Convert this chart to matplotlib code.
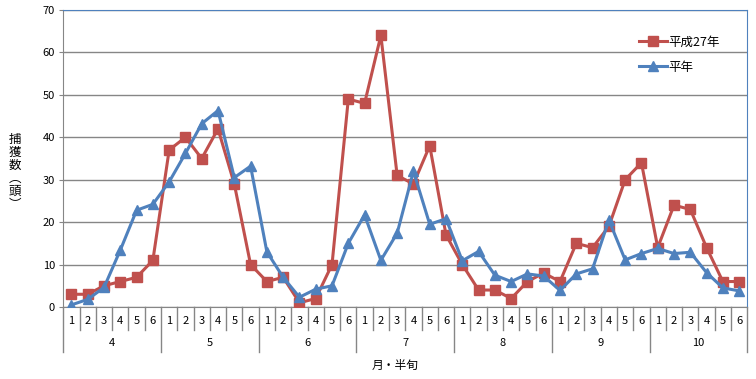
import numpy as np
import matplotlib
matplotlib.use("Agg")
from matplotlib import pyplot as plt

plt.rcParams['font.family'] = ['Noto Sans CJK JP', 'DejaVu Sans']

months = ['4', '5', '6', '7', '8', '9', '10']
halves = ['1', '2', '3', '4', '5', '6']

# 平成27年
h27 = [3, 3, 5, 6, 7, 11,
       37, 40, 35, 42, 29, 10,
       6, 7, 1, 2, 10, 49,
       48, 64, 31, 29, 38, 17,
       10, 4, 4, 2, 6, 8,
       6, 15, 14, 19, 30, 34,
       14, 24, 23, 14, 6, 6]
# 平年
normal = [0.5, 1.8, 4.6, 13.4, 22.8, 24.2,
          29.5, 36.2, 43.2, 46.3, 30.5, 33.2,
          13, 7, 2.3, 4.2, 5, 15,
          21.7, 11, 17.4, 32, 19.5, 20.8,
          10.9, 13.1, 7.5, 6, 7.8, 7.3,
          3.9, 7.8, 9, 20.5, 11.1, 12.6,
          13.8, 12.6, 12.9, 8.1, 4.5, 3.8]

red = '#C0504D'
blue = '#4F81BD'
grid_c = '#868686'

fig = plt.figure(figsize=(7.56, 3.79), dpi=100)
ax = fig.add_axes([63.3/756, 72/379, 684/756, 297/379])

x = np.arange(len(h27))
ax.plot(x, h27, color=red, lw=2.2, marker='s', ms=6.5, label='平成27年', zorder=3)
ax.plot(x, normal, color=blue, lw=2.2, marker='^', ms=7.5, label='平年', zorder=3)

ax.set_xlim(-0.5, len(h27) - 0.5)
ax.set_ylim(0, 70)
ax.set_yticks(range(0, 71, 10))
ax.yaxis.grid(True, color=grid_c, lw=1)
ax.set_axisbelow(True)
ax.tick_params(axis='y', length=3, color=grid_c, labelsize=8, pad=3)
ax.set_xticks([])

for s in ['left', 'bottom']:
    ax.spines[s].set_color(grid_c)
for s in ['top', 'right']:
    ax.spines[s].set_color(blue)

# multi-level category axis
trans = ax.get_xaxis_transform()
h = 297.0
for i in range(len(h27) + 1):
    depth = 45 if i % 6 == 0 else 23
    ax.plot([i - 0.5, i - 0.5], [0, -depth / h], color=grid_c, lw=1,
            transform=trans, clip_on=False)
for i in range(len(h27)):
    ax.text(i, -14 / h, halves[i % 6], transform=trans, ha='center', va='center', fontsize=8)
for m, name in enumerate(months):
    ax.text(m * 6 + 2.5, -36 / h, name, transform=trans, ha='center', va='center', fontsize=8)

fig.text(395 / 756, 1 - 365 / 379, '月・半旬', ha='center', va='center', fontsize=8.5)
fig.text(15 / 756, 1 - 172 / 379, '捕\n獲\n数\n︵\n頭\n︶', ha='center', va='center',
         fontsize=9, linespacing=1.0)

ax.legend(loc='upper left', bbox_to_anchor=(0.835, 0.93), frameon=False,
          fontsize=9, handlelength=2.2, handletextpad=0.1, labelspacing=0.95,
          borderaxespad=0)

fig.savefig('out.png', dpi=100)
